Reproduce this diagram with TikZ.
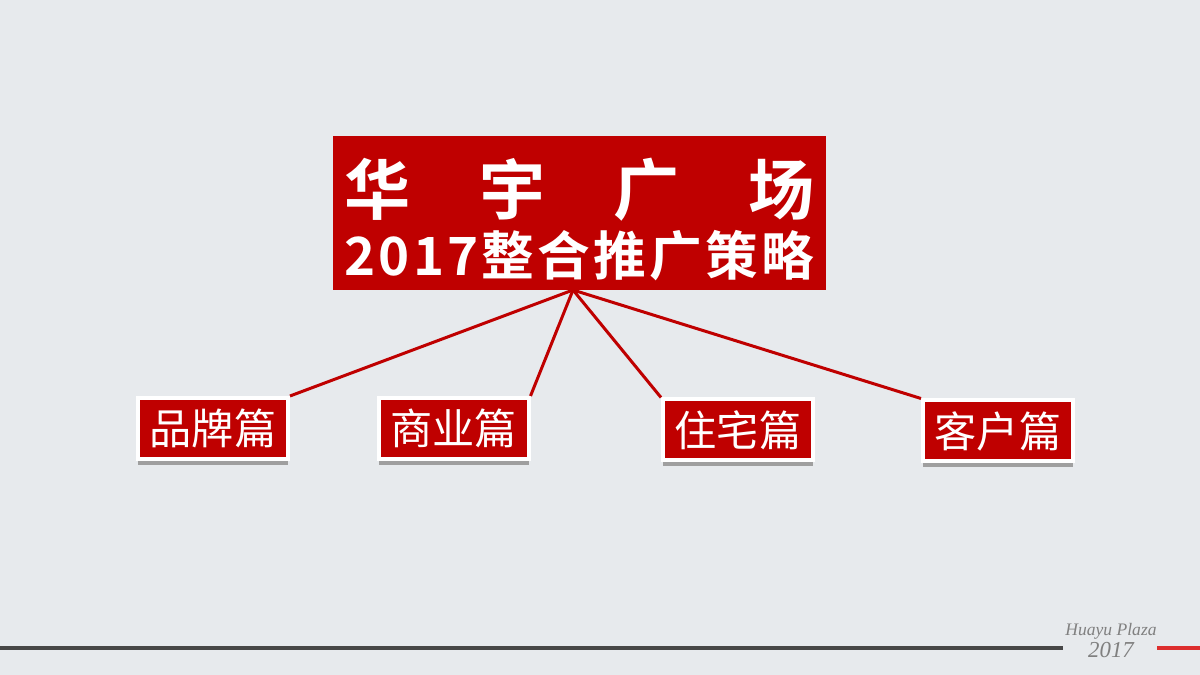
\documentclass[tikz,border=0pt]{standalone}
\usepackage{fontspec}
\usepackage{tikz}
\usetikzlibrary{shadows}
\newfontfamily\cjk{Noto Sans CJK SC}
\newfontfamily\cjkbold{Noto Sans CJK SC Bold}
\newfontfamily\logofont{Liberation Serif}
\definecolor{bgray}{HTML}{E7EAED}
\definecolor{hred}{HTML}{BF0000}
\definecolor{fgray}{HTML}{474747}
\definecolor{fred}{HTML}{DD2E2E}
\begin{document}
\begin{tikzpicture}[part/.style={rectangle, fill=hred, draw=white, line width=0.04cm, minimum width=1.5cm, minimum height=0.61cm, inner sep=0pt, text=white, font=\cjk\fontsize{12pt}{14pt}\selectfont, drop shadow={shadow xshift=0cm, shadow yshift=-0.06cm, fill=gray!75, opacity=1}}, link/.style={draw=hred, line width=0.03cm}]
					\fill [bgray] (0,0) rectangle (12,6.75);
					\useasboundingbox (0,0) rectangle (12,6.75);
					\node [rectangle, fill=hred, minimum width=4.93cm, minimum height=1.54cm, inner sep=0pt, text=white, align=center] (title) at (5.795,4.62) {\cjkbold\fontsize{18.8pt}{20pt}\selectfont\rule{0pt}{20pt}\makebox[4.7cm][s]{华\hfill 宇\hfill 广\hfill 场}\\[1.6pt] \cjkbold\fontsize{15pt}{19pt}\selectfont\makebox[4.7cm][s]{2\hfill 0\hfill 1\hfill 7\hfill 整\hfill 合\hfill 推\hfill 广\hfill 策\hfill 略}};
					\coordinate (hub) at (5.73,3.85);
					\node [part] (pinpai) at (2.13,2.465) {品牌篇};
					\node [part] (shangye) at (4.535,2.465) {商业篇};
					\node [part] (zhuzhai) at (7.38,2.45) {住宅篇};
					\node [part] (kehu) at (9.98,2.44) {客户篇};
					\path [link] (hub) -- (pinpai.north east);
					\path [link] (hub) -- (shangye.north east);
					\path [link] (hub) -- (zhuzhai.north west);
					\path [link] (hub) -- (kehu.north west);
					% footer
					\coordinate (fl) at (0,0.27);
					\coordinate (fm) at (10.63,0.27);
					\coordinate (fr) at (11.57,0.27);
					\coordinate (fe) at (12,0.27);
					\draw [fgray, line width=0.04cm] (fl) -- (fm);
					\draw [fred, line width=0.04cm] (fr) -- (fe);
					\node [text=gray, font=\logofont\itshape\fontsize{5pt}{6pt}\selectfont] (plaza) at (11.11,0.44) {Huayu Plaza};
					\node [text=gray, font=\logofont\itshape\fontsize{6.5pt}{7pt}\selectfont] (year) at (11.11,0.25) {2017};
				\end{tikzpicture}
\end{document}
